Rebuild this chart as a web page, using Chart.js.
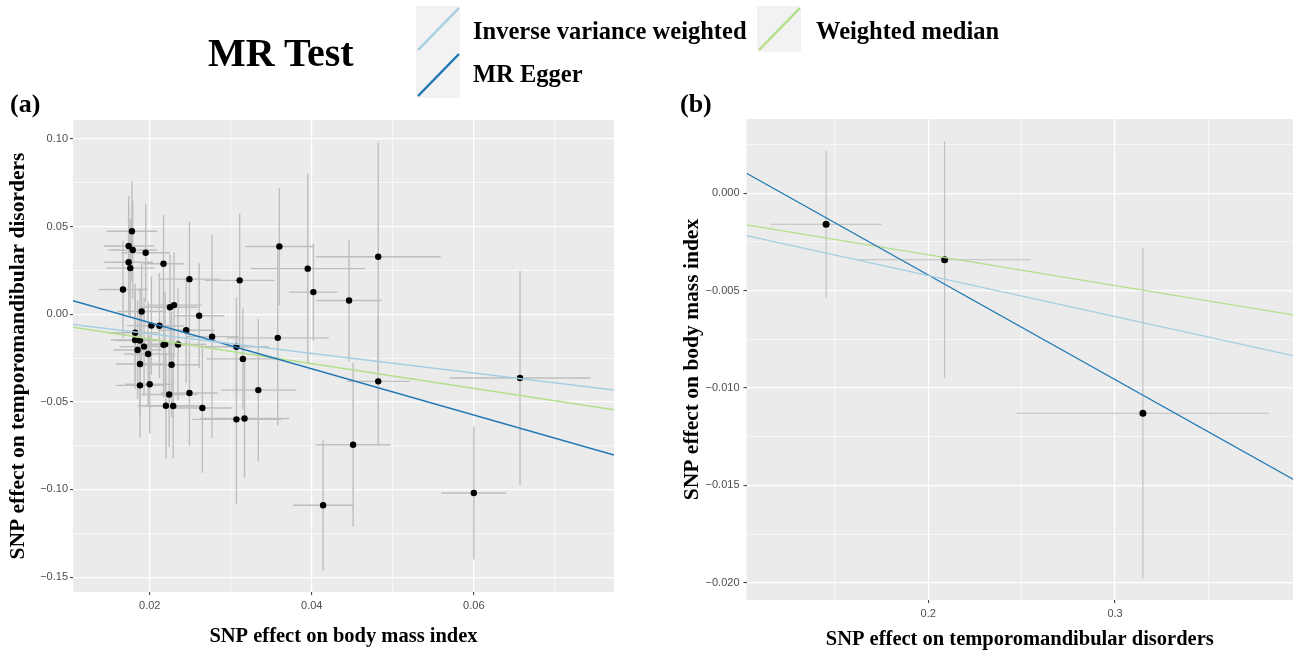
<!DOCTYPE html>
<html><head><meta charset="utf-8">
<script src="https://cdn.jsdelivr.net/npm/chart.js@4.4.0/dist/chart.umd.min.js"></script>
<style>
html,body{margin:0;padding:0;background:#fff;}
#wrap{position:relative;width:1293px;height:652px;overflow:hidden;background:#fff;}
canvas{position:absolute;top:0;}
.t{position:absolute;font-family:"Liberation Serif","Times New Roman",serif;font-weight:bold;color:#000;white-space:nowrap;line-height:1;}
.key{position:absolute;width:44px;height:46px;background:#F2F2F2;}
.key svg{position:absolute;left:0;top:0;}
</style></head>
<body><div id="wrap">
<canvas id="ca" width="646" height="652" style="left:0px"></canvas>
<canvas id="cb" width="651" height="652" style="left:646px"></canvas>
<div class="t" style="left:208px;top:33px;font-size:40px">MR Test</div>
<div class="key" style="left:416px;top:6px"><svg width="44" height="46"><line x1="2" y1="44" x2="43" y2="2" stroke="#A6CEE3" stroke-width="2.5"/></svg></div>
<div class="key" style="left:416px;top:52px"><svg width="44" height="46"><line x1="2" y1="44" x2="43" y2="2" stroke="#1F78B4" stroke-width="2.5"/></svg></div>
<div class="key" style="left:757px;top:6px"><svg width="44" height="46"><line x1="2" y1="44" x2="43" y2="2" stroke="#B2DF8A" stroke-width="2.5"/></svg></div>
<div class="t" style="left:473px;top:19px;font-size:24.5px">Inverse variance weighted</div>
<div class="t" style="left:473px;top:62px;font-size:24.5px">MR Egger</div>
<div class="t" style="left:816px;top:19px;font-size:24.5px">Weighted median</div>
<div class="t" style="left:10px;top:91px;font-size:26px">(a)</div>
<div class="t" style="left:680px;top:91px;font-size:26px">(b)</div>
</div>
<script>
// ---------- Panel (a): exposure = BMI, outcome = TMD ----------
const aBmiBeta = [0.0178,0.0174,0.0179,0.0195,0.0174,0.0176,0.0217,0.0167,0.0249,0.0311,
  0.0360,0.0395,0.0402,0.0482,0.0446,0.0190,0.0225,0.0230,0.0261,0.0202,
  0.0212,0.0245,0.0182,0.0182,0.0188,0.0193,0.0185,0.0198,0.0217,0.0219,
  0.0235,0.0188,0.0227,0.0277,0.0307,0.0315,0.0358,0.0188,0.0200,0.0224,
  0.0249,0.0220,0.0229,0.0265,0.0307,0.0317,0.0334,0.0414,0.0451,0.0482,
  0.0600,0.0657];
const aTmdBeta = [0.0473,0.0389,0.0366,0.0351,0.0296,0.0263,0.0288,0.0141,0.0200,0.0193,
  0.0386,0.0260,0.0126,0.0328,0.0078,0.0015,0.0040,0.0052,-0.0009,-0.0065,
  -0.0066,-0.0092,-0.0106,-0.0147,-0.0150,-0.0185,-0.0204,-0.0227,-0.0175,-0.0171,
  -0.0173,-0.0284,-0.0288,-0.0128,-0.0186,-0.0255,-0.0135,-0.0406,-0.0400,-0.0458,
  -0.0450,-0.0522,-0.0524,-0.0535,-0.0600,-0.0595,-0.0433,-0.1090,-0.0745,-0.0383,
  -0.1020,-0.0364];
const aBmiSe = [0.0031,0.0031,0.0030,0.0030,0.0030,0.0030,0.0025,0.0030,0.0037,0.0043,
  0.0042,0.0071,0.0030,0.0077,0.0040,0.0030,0.0034,0.0034,0.0031,0.0030,
  0.0030,0.0035,0.0030,0.0030,0.0030,0.0030,0.0030,0.0030,0.0030,0.0030,
  0.0035,0.0030,0.0035,0.0032,0.0040,0.0045,0.0063,0.0030,0.0030,0.0035,
  0.0035,0.0035,0.0035,0.0037,0.0055,0.0055,0.0046,0.0037,0.0046,0.0039,
  0.0040,0.0087];
const aTmdSe = [0.0286,0.0284,0.0280,0.0280,0.0300,0.0280,0.0280,0.0280,0.0330,0.0380,
  0.0334,0.0540,0.0277,0.0650,0.0346,0.0280,0.0300,0.0300,0.0300,0.0280,
  0.0300,0.0300,0.0280,0.0280,0.0300,0.0280,0.0280,0.0300,0.0300,0.0300,
  0.0320,0.0300,0.0300,0.0580,0.0280,0.0287,0.0500,0.0300,0.0280,0.0300,
  0.0300,0.0300,0.0300,0.0370,0.0485,0.0340,0.0405,0.0375,0.0466,0.0366,
  0.0380,0.0610];
const aXRange = [0.01053, 0.0773];
const aYRange = [-0.1585, 0.1108];
const aXMajor = [0.02, 0.04, 0.06];
const aXMajorLabels = ['0.02', '0.04', '0.06'];
const aXMinor = [0.03, 0.05, 0.07];
const aYMajor = [-0.15, -0.10, -0.05, 0, 0.05, 0.10];
const aYMajorLabels = ['\u22120.15', '\u22120.10', '\u22120.05', '0.00', '0.05', '0.10'];
const aYMinor = [-0.125, -0.075, -0.025, 0.025, 0.075];
const aSlopes = [-0.560, -1.319, -0.705];
const aIntercepts = [0, 0.02156, 0];

// ---------- Panel (b): exposure = TMD, outcome = BMI ----------
const bTmdBeta = [0.1454, 0.2088, 0.3149];
const bBmiBeta = [-0.00159, -0.00341, -0.0113];
const bTmdSe = [0.0296, 0.0460, 0.0675];
const bBmiSe = [0.00378, 0.00608, 0.0085];
const bXRange = [0.1028, 0.3952];
const bYRange = [-0.02089, 0.003816];
const bXMajor = [0.2, 0.3];
const bXMajorLabels = ['0.2', '0.3'];
const bXMinor = [0.15, 0.25, 0.35];
const bYMajor = [-0.020, -0.015, -0.010, -0.005, 0.000];
const bYMajorLabels = ['\u22120.020', '\u22120.015', '\u22120.010', '\u22120.005', '0.000'];
const bYMinor = [-0.0175, -0.0125, -0.0075, -0.0025, 0.0025];
const bSlopes = [-0.0211, -0.05375, -0.0158];
const bIntercepts = [0, 0.006553, 0];

const methodNames = ['Inverse variance weighted', 'MR Egger', 'Weighted median'];
const methodColors = ['#A6CEE3', '#1F78B4', '#B2DF8A'];

const bgPlugin = {
  id: 'panelBg',
  beforeDraw(chart) {
    const {ctx, chartArea: a} = chart;
    ctx.save();
    ctx.fillStyle = '#EBEBEB';
    ctx.fillRect(a.left, a.top, a.right - a.left, a.bottom - a.top);
    ctx.restore();
  }
};

function near(v, arr) { return arr.some(m => Math.abs(m - v) < 1e-9); }

function axis(range, majors, labels, minors, title, fitSize, isX, titlePad, titleSize, tickPad) {
  const all = majors.concat(minors).sort((p, q) => p - q);
  return {
    type: 'linear',
    position: isX ? 'bottom' : 'left',
    min: range[0], max: range[1],
    afterBuildTicks: s => { s.ticks = all.map(v => ({value: v})); },
    afterFit: s => { if (isX) s.height = fitSize; else s.width = fitSize; },
    border: {display: false},
    grid: {
      color: '#FFFFFF',
      lineWidth: c => (c.tick && near(c.tick.value, majors)) ? 1.2 : 0.6,
      drawTicks: true,
      tickLength: 3,
      tickWidth: 1,
      tickColor: c => (c.tick && near(c.tick.value, majors)) ? '#333333' : 'rgba(0,0,0,0)'
    },
    ticks: {
      autoSkip: false, maxRotation: 0, minRotation: 0,
      padding: tickPad,
      color: '#4D4D4D',
      font: {family: 'Liberation Sans, Arial, sans-serif', size: 11},
      callback: v => { const i = majors.findIndex(m => Math.abs(m - v) < 1e-9); return i >= 0 ? labels[i] : ''; }
    },
    title: {
      display: true, text: title, color: '#000',
      font: {family: 'Liberation Serif, Times New Roman, serif', weight: 'bold', size: titleSize},
      padding: titlePad
    }
  };
}

function buildPanel(id, xs, ys, sx, sy, xRange, yRange, slopes, intercepts, opts) {
  const datasets = [];
  slopes.forEach((b, k) => {
    datasets.push({
      label: methodNames[k], order: 0,
      data: xRange.map(x => ({x: x, y: intercepts[k] + b * x})),
      showLine: true, borderColor: methodColors[k], borderWidth: opts.fitWidth,
      pointRadius: 0
    });
  });
  datasets.push({
    label: 'SNPs', order: 1,
    data: xs.map((x, i) => ({x: x, y: ys[i]})),
    backgroundColor: '#000000', borderColor: '#000000', borderWidth: 0, pointRadius: opts.pointR
  });
  xs.forEach((x, i) => {
    datasets.push({
      order: 2, showLine: true, pointRadius: 0,
      borderColor: '#BEBEBE', borderWidth: opts.errWidth,
      data: [{x: x, y: ys[i] - sy[i]}, {x: x, y: ys[i] + sy[i]}]
    });
    datasets.push({
      order: 2, showLine: true, pointRadius: 0,
      borderColor: '#BEBEBE', borderWidth: opts.errWidth,
      data: [{x: x - sx[i], y: ys[i]}, {x: x + sx[i], y: ys[i]}]
    });
  });
  return new Chart(document.getElementById(id), {
    type: 'scatter',
    data: {datasets},
    options: {
      responsive: false, animation: false, events: [],
      devicePixelRatio: 1,
      layout: {padding: opts.layoutPad},
      plugins: {legend: {display: false}, tooltip: {enabled: false}},
      scales: {x: opts.x, y: opts.y}
    },
    plugins: [bgPlugin]
  });
}

buildPanel('ca', aBmiBeta, aTmdBeta, aBmiSe, aTmdSe, aXRange, aYRange, aSlopes, aIntercepts, {
  fitWidth: 1.5, pointR: 3.2, errWidth: 1.4,
  layoutPad: {top: 120, right: 32, bottom: 0, left: 0},
  x: axis(aXRange, aXMajor, aXMajorLabels, aXMinor, 'SNP effect on body mass index', 60, true, {top: 0, bottom: 3}, 20.5, 4),
  y: axis(aYRange, aYMajor, aYMajorLabels, aYMinor, 'SNP effect on temporomandibular disorders', 73, false, {top: 6, bottom: 0}, 21.5, 2)
});

buildPanel('cb', bTmdBeta, bBmiBeta, bTmdSe, bBmiSe, bXRange, bYRange, bSlopes, bIntercepts, {
  fitWidth: 1.3, pointR: 3.5, errWidth: 1.1,
  layoutPad: {top: 119, right: 0, bottom: 0, left: 0},
  x: axis(bXRange, bXMajor, bXMajorLabels, bXMinor, 'SNP effect on temporomandibular disorders', 52, true, {top: 0, bottom: 0}, 20.5, 4),
  y: axis(bYRange, bYMajor, bYMajorLabels, bYMinor, 'SNP effect on body mass index', 100.5, false, {top: 34, bottom: 0}, 21.5, 4)
});
</script>
</body></html>
